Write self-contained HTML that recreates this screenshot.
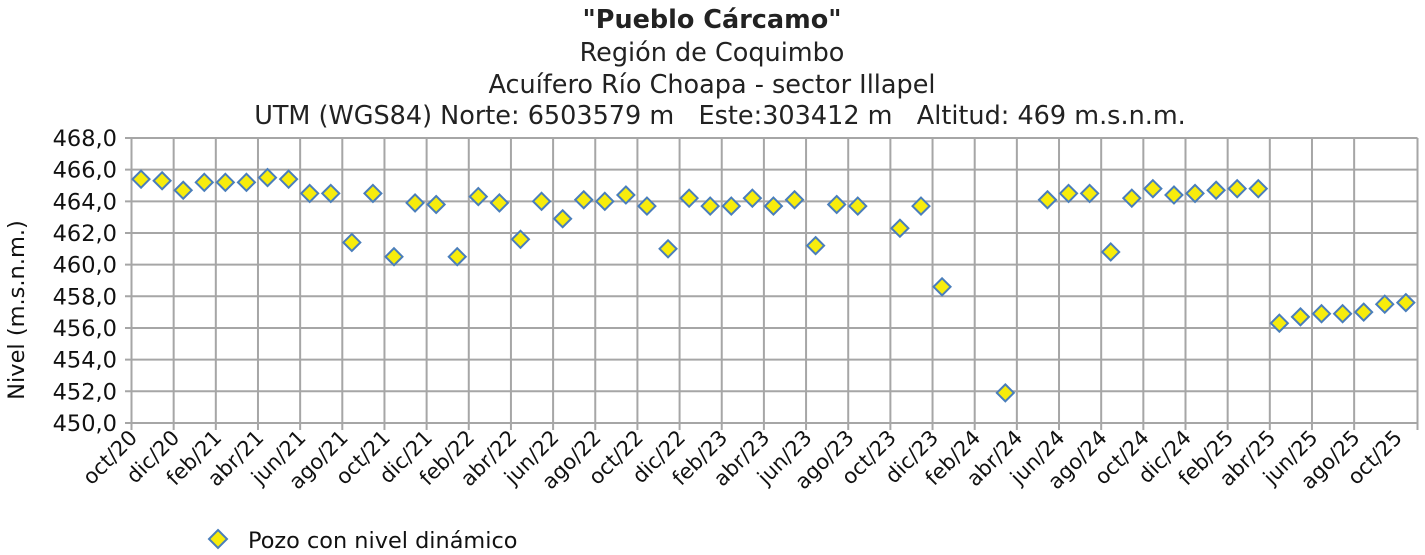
<!DOCTYPE html>
<html><head><meta charset="utf-8"><style>
body{margin:0;background:#fff;}
svg{display:block;font-family:"DejaVu Sans","Liberation Sans",sans-serif;}
</style></head><body>
<svg width="1425" height="555" viewBox="0 0 1425 555" xmlns="http://www.w3.org/2000/svg">
<g text-anchor="middle" fill="#222" font-size="25.5">
<text x="712" y="28" font-weight="bold">"Pueblo Cárcamo"</text>
<text x="712" y="61">Región de Coquimbo</text>
<text x="712" y="93">Acuífero Río Choapa - sector Illapel</text>
<text x="720" y="124" xml:space="preserve">UTM (WGS84) Norte: 6503579 m   Este:303412 m   Altitud: 469 m.s.n.m.</text>
</g>
<g id="grid" stroke="#A6A6A6" stroke-width="2" fill="none"></g>
<g id="ylab" font-size="22.5" fill="#111" text-anchor="end"></g>
<g id="xlab" font-size="21" fill="#111" text-anchor="end"></g>
<text transform="translate(24,310) rotate(-90)" font-size="22.5" text-anchor="middle" fill="#111">Nivel (m.s.n.m.)</text>
<g id="pts" fill="#F7EC0C" stroke="#4A7EBB" stroke-width="2"></g>
<polygon points="218,530 227,539 218,548 209,539" fill="#F7EC0C" stroke="#4A7EBB" stroke-width="2"/>
<text x="248" y="548" font-size="22.4" fill="#111">Pozo con nivel dinámico</text>
</svg>
<script>
var ns="http://www.w3.org/2000/svg";
function el(p,t,a,txt){var e=document.createElementNS(ns,t);for(var k in a)e.setAttribute(k,a[k]);if(txt!=null)e.textContent=txt;document.getElementById(p).appendChild(e);return e;}
var x0=131.5,cw=21.08,xr=1417.5,yTop=138,ppu=15.83;
function Y(v){return yTop+(468-v)*ppu;}
var yb=Y(450);
for(var v=450;v<=468;v+=2){var y=Y(v);el("grid","line",{x1:125,x2:xr,y1:y,y2:y});
el("ylab","text",{x:117,y:y+8},v.toFixed(1).replace(".",","));}
var m=["oct","dic","feb","abr","jun","ago"];
for(var k=0;k<=30;k++){var x=x0+k*2*cw;if(k==30)x=xr;el("grid","line",{x1:x,x2:x,y1:yTop,y2:yb+7});
var idx=k%6;var year=20+Math.floor((9+2*k)/12);
var lbl=m[idx]+"/"+year;var lx=x0+k*2*cw+7,ly=yb+16;
el("xlab","text",{x:lx,y:ly,transform:"rotate(-45 "+lx+" "+ly+")"},lbl);}
el("grid","line",{x1:xr,x2:xr,y1:yTop,y2:yb});
var d={0:465.4,1:465.3,2:464.7,3:465.2,4:465.2,5:465.2,6:465.5,7:465.4,8:464.5,9:464.5,10:461.4,11:464.5,12:460.5,13:463.9,14:463.8,15:460.5,16:464.3,17:463.9,18:461.6,19:464.0,20:462.9,21:464.1,22:464.0,23:464.4,24:463.7,25:461.0,26:464.2,27:463.7,28:463.7,29:464.2,30:463.7,31:464.1,32:461.2,33:463.8,34:463.7,36:462.3,37:463.7,38:458.6,41:451.9,43:464.1,44:464.5,45:464.5,46:460.8,47:464.2,48:464.8,49:464.4,50:464.5,51:464.7,52:464.8,53:464.8,54:456.3,55:456.7,56:456.9,57:456.9,58:457.0,59:457.5,60:457.6};
for(var i in d){var cx=x0+cw*(+i+0.5)-1,cy=Y(d[i]);
el("pts","polygon",{points:cx+","+(cy-8.5)+" "+(cx+8.5)+","+cy+" "+cx+","+(cy+8.5)+" "+(cx-8.5)+","+cy});}
</script>
</body></html>
